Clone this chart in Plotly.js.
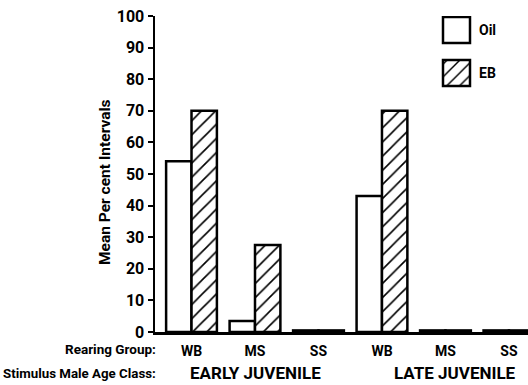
<!DOCTYPE html>
<html>
<head>
<meta charset="utf-8">
<script src="https://cdn.plot.ly/plotly-3.0.1.min.js"></script>
<style>html,body{margin:0;padding:0;background:#fff;}#chart{width:528px;height:385px;}</style>
</head>
<body>
<div id="chart"></div>
<script>
// ---- data ----
const rearingGroups = ['WB', 'MS', 'SS', 'WB', 'MS', 'SS'];
const ageClasses = ['EARLY JUVENILE', 'LATE JUVENILE'];
const ageClassGroups = [[0, 1, 2], [3, 4, 5]];
const seriesNames = ['Oil', 'EB'];
const oilValues = [54, 3.5, 0.5, 43, 0.5, 0.5];
const ebValues = [70, 27.5, 0.5, 70, 0.5, 0.5];
const yTickVals = [0, 10, 20, 30, 40, 50, 60, 70, 80, 90, 100];

const FONT = "Roboto, 'Liberation Sans', sans-serif";
const idx = rearingGroups.map((_, i) => i);
const patterns = ['', '/'];

const traces = [
  {
    type: 'bar', name: seriesNames[0], x: idx, y: oilValues,
    marker: { color: '#fff', line: { color: '#000', width: 2.5 } },
    showlegend: false, hoverinfo: 'none'
  },
  {
    type: 'bar', name: seriesNames[1], x: idx, y: ebValues,
    marker: { color: '#fff', line: { color: '#000', width: 2.5 },
      pattern: { shape: '/', fgcolor: '#000', bgcolor: '#fff', size: 10, solidity: 0.16 } },
    showlegend: false, hoverinfo: 'none'
  },
  {
    type: 'bar', orientation: 'h', xaxis: 'x2', yaxis: 'y2', cliponaxis: false,
    y: seriesNames.map((_, i) => i), x: seriesNames.map(() => 1), width: 0.6,
    marker: { color: '#fff', line: { color: '#000', width: 2.5 },
      pattern: { shape: patterns, fgcolor: '#000', bgcolor: '#fff', size: 9, solidity: 0.16 } },
    showlegend: false, hoverinfo: 'none'
  }
];

const L = 155, R = 528, T = 16, B = 332;
const pw = R - L, ph = B - T;
const px = v => (v - L) / pw;
const py = v => (B - v) / ph;

const annotations = [
  { text: 'Mean Per cent Intervals', xref: 'paper', yref: 'paper', x: px(105), y: py(182),
    xanchor: 'center', yanchor: 'middle',
    textangle: -90, showarrow: false, font: { family: FONT, size: 15.5, color: '#000', weight: 'bold' } },
  { text: 'Rearing Group:', xref: 'paper', yref: 'paper', x: px(158), y: py(348.5), xanchor: 'right', yanchor: 'middle',
    showarrow: false, font: { family: FONT, size: 13.5, color: '#000', weight: 'bold' } },
  { text: 'Stimulus Male Age Class:', xref: 'paper', yref: 'paper', x: px(158), y: py(373), xanchor: 'right', yanchor: 'middle',
    showarrow: false, font: { family: FONT, size: 13.3, color: '#000', weight: 'bold' } }
];
ageClasses.forEach((t, k) => {
  const g = ageClassGroups[k];
  annotations.push({ text: t, xref: 'x', yref: 'paper', x: (g[0] + g[g.length - 1]) / 2 + (k === 1 ? 0.15 : 0),
    y: py(373), xanchor: 'center', yanchor: 'middle', showarrow: false,
    font: { family: FONT, size: 17, color: '#000', weight: 'bold' } });
});
seriesNames.forEach((n, i) => {
  annotations.push({ text: n, xref: 'paper', yref: 'y2', x: px(477), y: i, xanchor: 'left', yanchor: 'middle',
    showarrow: false, font: { family: FONT, size: 14, color: '#000', weight: 'bold' } });
});

const layout = {
  width: 528, height: 385,
  margin: { l: L, r: 528 - R, t: T, b: 385 - B, pad: 0 },
  paper_bgcolor: '#fff', plot_bgcolor: '#fff',
  barmode: 'group', bargap: 0.2, bargroupgap: 0,
  showlegend: false,
  xaxis: {
    range: [-0.575, 5.3], tickvals: idx, ticktext: rearingGroups,
    showgrid: false, zeroline: false, showline: true, linecolor: '#000', linewidth: 2.5,
    ticks: '', ticklabelstandoff: 5,
    tickfont: { family: FONT, size: 14, color: '#000', weight: 'bold' }
  },
  yaxis: {
    range: [0, 100], tickvals: yTickVals, ticktext: yTickVals.map(String),
    showgrid: false, zeroline: false, showline: true, linecolor: '#000', linewidth: 2.5,
    ticks: 'outside', ticklen: 5, tickwidth: 2, tickcolor: '#000',
    tickfont: { family: FONT, size: 16, color: '#000', weight: 'bold' }
  },
  xaxis2: { domain: [px(440.3), px(472.7)], range: [-0.1, 1.1], anchor: 'y2', visible: false, fixedrange: true },
  yaxis2: { domain: [py(110), 1], range: [1.86, -0.326], anchor: 'x2', visible: false, fixedrange: true },
  annotations: annotations
};

Plotly.newPlot('chart', traces, layout, { staticPlot: true, displayModeBar: false });
</script>
</body>
</html>
